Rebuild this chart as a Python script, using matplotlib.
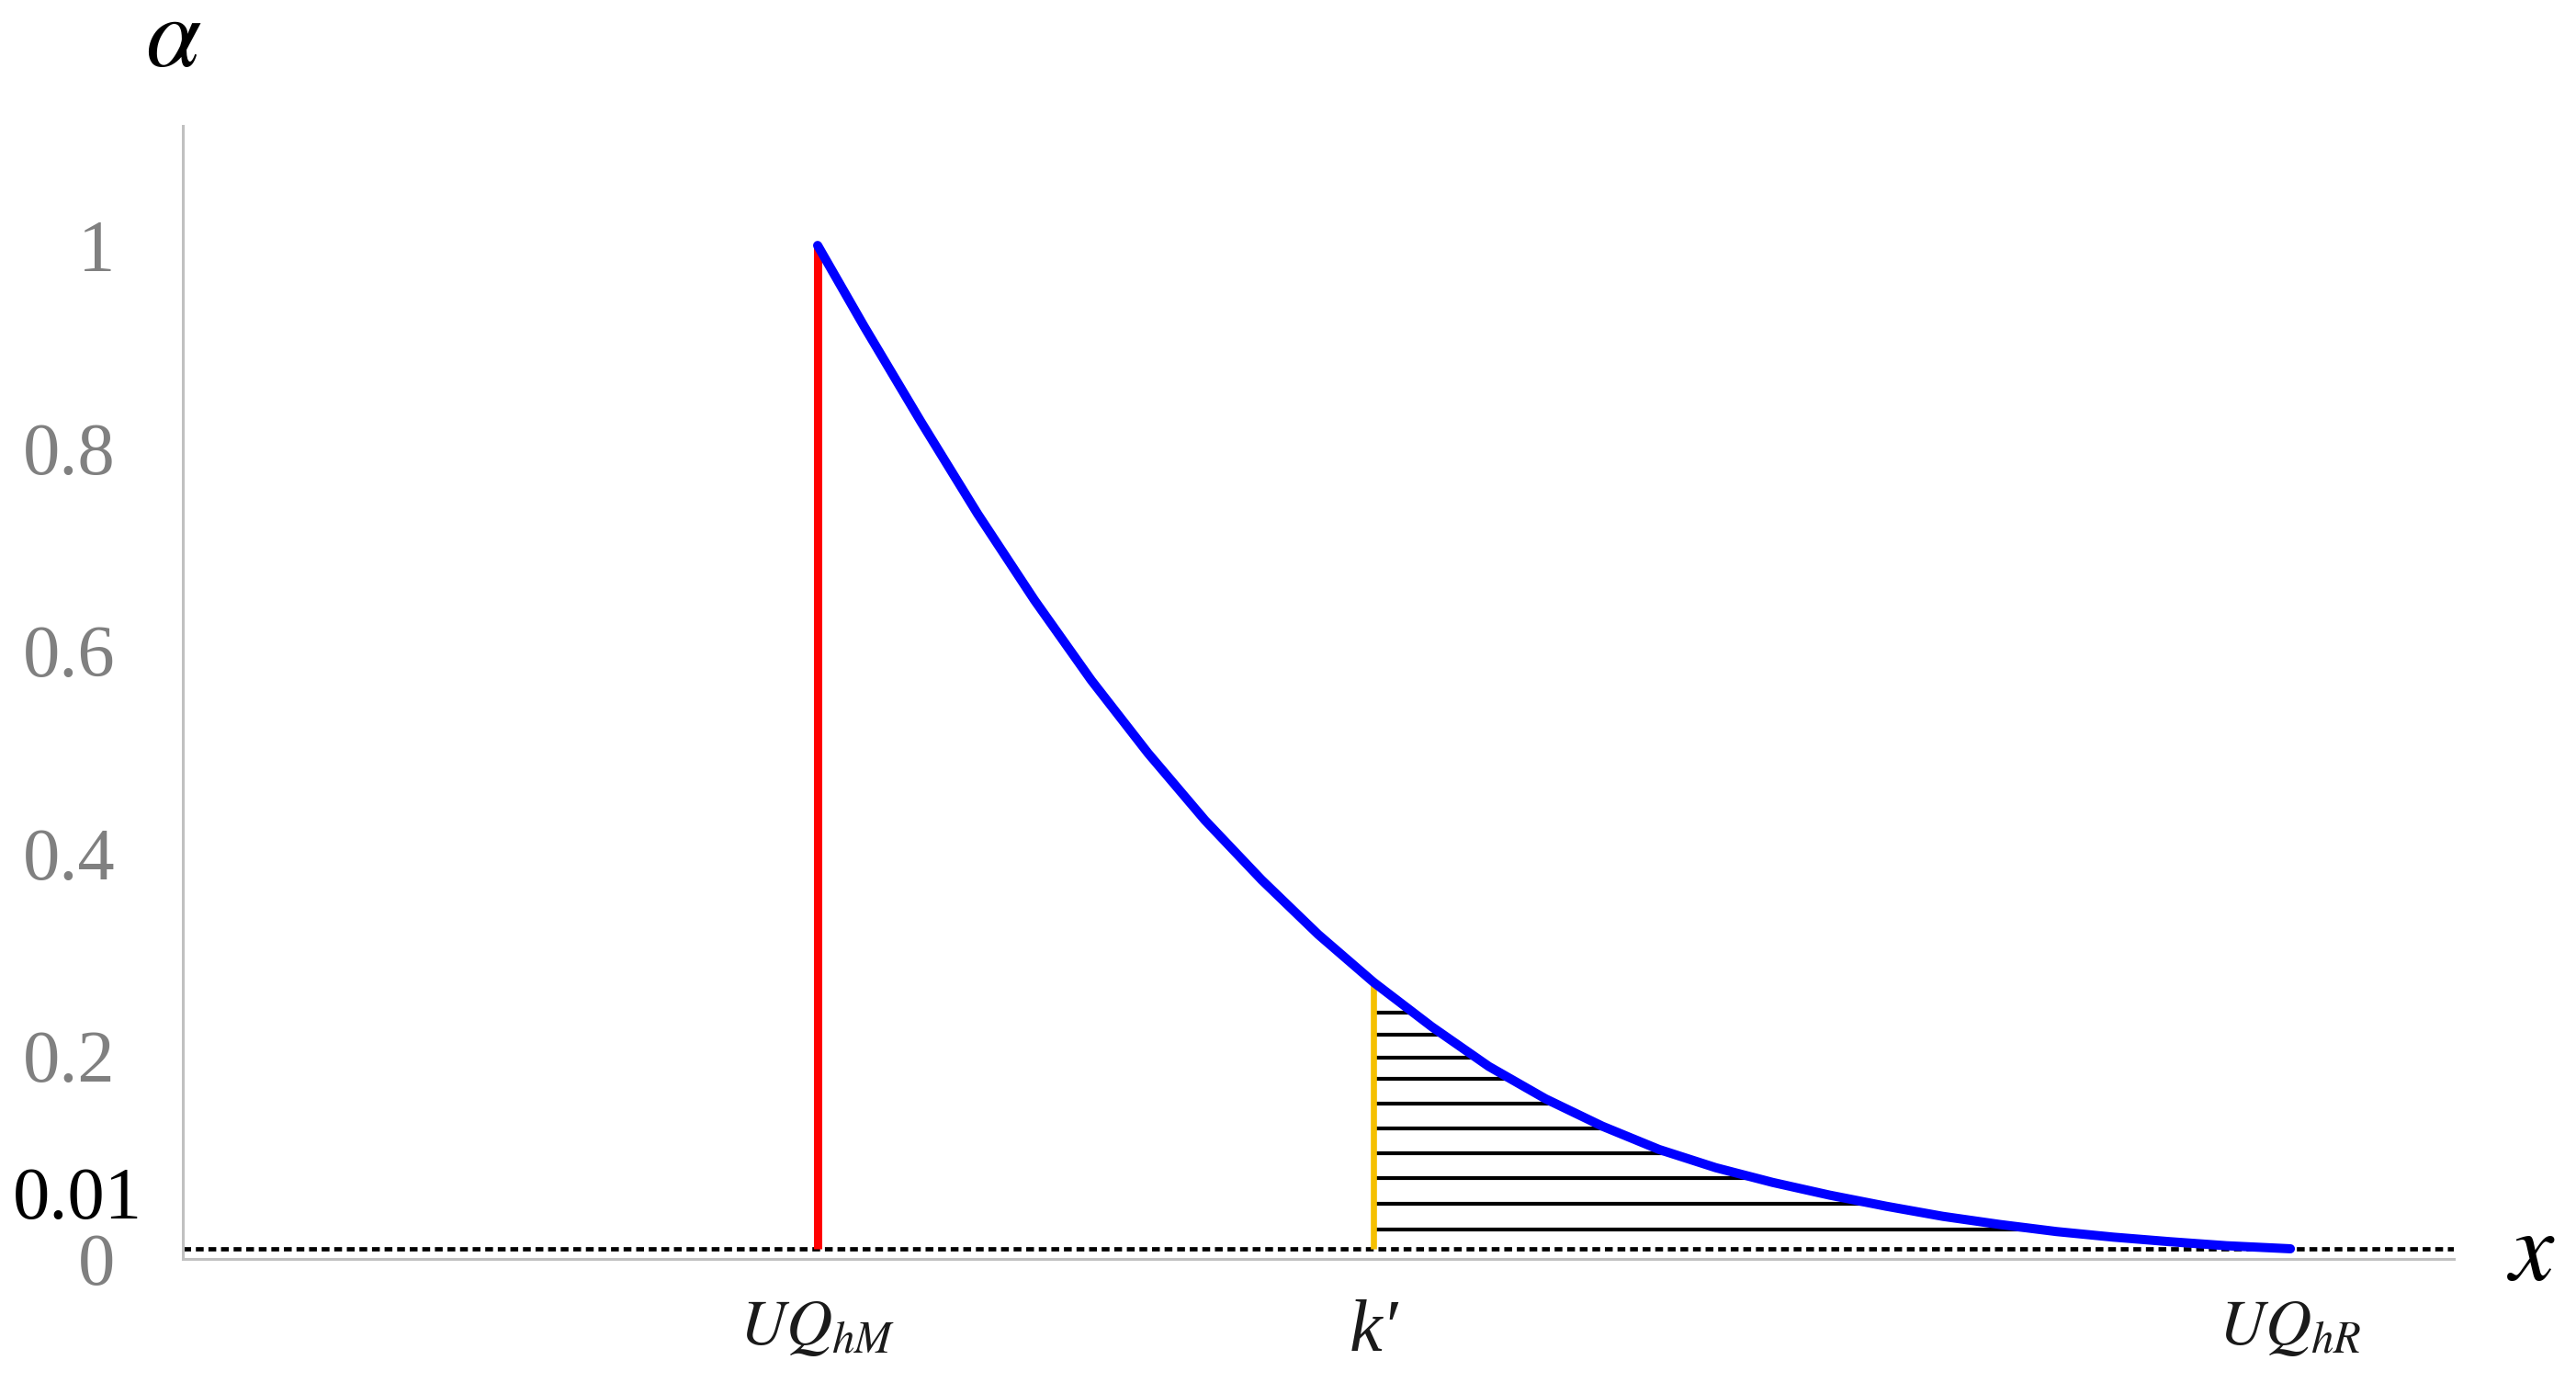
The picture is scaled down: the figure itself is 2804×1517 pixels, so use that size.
import numpy as np
import matplotlib
matplotlib.use("Agg")
import matplotlib.pyplot as plt

plt.rcParams['mathtext.fontset'] = 'stix'
plt.rcParams['font.family'] = ['Liberation Serif', 'DejaVu Serif']

# ---- data ----
curve_x = [27.95, 30.0, 32.5, 35.0, 37.5, 40.0, 42.5, 45.0, 47.5, 50.0, 52.43,
           55.0, 57.5, 60.0, 62.5, 65.0, 67.5, 70.0, 72.5, 75.0, 77.5, 80.0,
           82.5, 85.0, 87.5, 90.0, 92.8]
curve_a = [1.000, 0.920, 0.826, 0.735, 0.650, 0.571, 0.499, 0.433, 0.374, 0.320, 0.273,
           0.229, 0.190, 0.158, 0.131, 0.108, 0.090, 0.0755, 0.063, 0.052, 0.042, 0.034,
           0.027, 0.0215, 0.017, 0.013, 0.010]

x_uqhm = 27.95
x_k = 52.43
x_uqhr = 92.80
level = 0.01
hatch_levels = [0.243, 0.221, 0.199, 0.178, 0.153, 0.129, 0.104, 0.080, 0.054, 0.029]

ytick_vals = [0, 0.2, 0.4, 0.6, 0.8, 1]
ytick_labels = ['0', '0.2', '0.4', '0.6', '0.8', '1']
xtick_vals = [x_uqhm, x_k, x_uqhr]
xtick_labels = [r'$UQ_{hM}$', "k\u2032", r'$UQ_{hR}$']

# ---- figure ----
fig = plt.figure(figsize=(28.04, 15.17), dpi=100)
ax = fig.add_axes([0.071, 0.0969, 0.8816, 0.8128])
ax.set_xlim(0, 100)
ax.set_ylim(0, 1.118)

for s in ['top', 'right']:
    ax.spines[s].set_visible(False)
for s in ['left', 'bottom']:
    ax.spines[s].set_color('#c0c0c0')
    ax.spines[s].set_linewidth(2.2)

# dotted level line
dl, = ax.plot([0, 100], [level, level], color='black', lw=3.4, zorder=2)
dl.set_dashes([1.8, 1.1])

# red vertical at UQhM
ax.plot([x_uqhm, x_uqhm], [level, 1.0], color='#ff0000', lw=6.5, zorder=3,
        solid_capstyle='butt')

# hatch lines between k' and curve
xs_rev = np.array(curve_x)[::-1]
as_rev = np.array(curve_a)[::-1]
for h in hatch_levels:
    xe = np.interp(h, as_rev, xs_rev)
    ax.plot([x_k, xe], [h, h], color='black', lw=3.0, zorder=3,
            solid_capstyle='butt')

# yellow vertical at k'
ka = np.interp(x_k, curve_x, curve_a)
ax.plot([x_k, x_k], [level, ka], color='#f5c000', lw=4.8, zorder=4,
        solid_capstyle='butt')

# blue curve
ax.plot(curve_x, curve_a, color='#0000ff', lw=7.2, zorder=5,
        solid_capstyle='round', solid_joinstyle='round')

# ticks
ax.set_yticks(ytick_vals)
ax.set_yticklabels(ytick_labels, fontsize=58, color='#808080')
ax.tick_params(axis='y', length=0, pad=53)
ax.set_xticks(xtick_vals)
ax.set_xticklabels(xtick_labels, fontsize=50, color='#1a1a1a')
ax.get_xticklabels()[1].set_fontstyle('italic')
ax.get_xticklabels()[1].set_fontsize(58)
ax.tick_params(axis='x', length=0, pad=32)

# extra 0.01 label (black)
ax.text(-0.018, 0.058, '0.01', transform=ax.get_yaxis_transform(),
        ha='right', va='center', fontsize=58, color='black')

# axis names
fig.text(189 / 2804, 1 - 46 / 1517, r'$\alpha$', fontsize=78, ha='center', va='center')
fig.text(2756 / 2804, 1 - 1367 / 1517, r'$x$', fontsize=78, ha='center', va='center')

fig.savefig('out.png', dpi=100, facecolor='white')
